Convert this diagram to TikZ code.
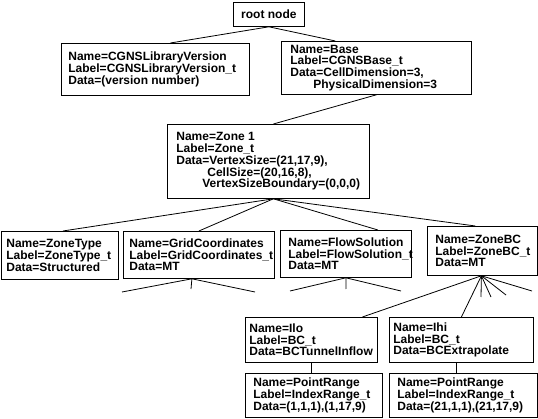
\documentclass[tikz,border=0pt]{standalone}
\usepackage{fontspec}
\setmainfont{Liberation Sans}
\usetikzlibrary{positioning, calc}

\tikzset{
  box/.style 2 args={draw, anchor=north west, minimum width=#1, minimum height=#2, inner sep=0pt},
  txt/.style={font=\bfseries\fontsize{12}{11.8}\selectfont, align=left, inner sep=0pt, anchor=west},
}

\begin{document}
\begin{tikzpicture}[x=1pt, y=-1pt, line width=0.8pt]
\useasboundingbox (0,0) rectangle (538,419);

% top levels
\node[box={71}{24}, font=\bfseries\fontsize{12}{11.8}\selectfont] (root) at (233,2) {root node};
\node[box={188}{52}, label={[txt, xshift=7]west:{Name=CGNSLibraryVersion\\Label=CGNSLibraryVersion\_t\\Data=(version number)}}] (lib) at (61,43) {};
\node[box={190}{53}, label={[txt, xshift=9]west:{Name=Base\\Label=CGNSBase\_t\\Data=CellDimension=3,\\\hspace*{23pt}PhysicalDimension=3}}] (base) at (281,41) {};
\node[box={202}{74}, label={[txt, xshift=9]west:{Name=Zone 1\\Label=Zone\_t\\Data=VertexSize=(21,17,9),\\\hspace*{31pt}CellSize=(20,16,8),\\\hspace*{26pt}VertexSizeBoundary=(0,0,0)}}] (zone) at (167,124) {};

% children of the zone
\node[box={117}{48}, label={[txt, xshift=5]west:{Name=ZoneType\\Label=ZoneType\_t\\Data=Structured}}] (ztype) at (1,231) {};
\node[box={151}{47}, label={[txt, xshift=6]west:{Name=GridCoordinates\\Label=GridCoordinates\_t\\Data=MT}}] (grid) at (123,231) {};
\node[box={131}{47}, label={[txt, xshift=8]west:{Name=FlowSolution\\Label=FlowSolution\_t\\Data=MT}}] (flow) at (280,230) {};
\node[box={110}{49}, label={[txt, xshift=8]west:{Name=ZoneBC\\Label=ZoneBC\_t\\Data=MT}}] (zbc) at (427,226) {};

% boundary conditions
\node[box={132}{45}, label={[txt, xshift=4]west:{Name=Ilo\\Label=BC\_t\\Data=BCTunnelInflow}}] (ilo) at (245,317) {};
\node[box={144}{45}, label={[txt, xshift=4]west:{Name=Ihi\\Label=BC\_t\\Data=BCExtrapolate}}] (ihi) at (389,317) {};
\node[box={137}{44}, label={[txt, xshift=8]west:{Name=PointRange\\Label=IndexRange\_t\\Data=(1,1,1),(1,17,9)}}] (prlo) at (245,373) {};
\node[box={148}{44}, label={[txt, xshift=8]west:{Name=PointRange\\Label=IndexRange\_t\\Data=(21,1,1),(21,17,9)}}] (prhi) at (389,373) {};

\draw (root.south) -- ([xshift=15]lib.north);
\draw (root.south) -- ([xshift=-41]base.north);
\draw (base.south) -- ([xshift=5]zone.north);

\coordinate (zfan) at ([xshift=5]zone.south);
\draw (zfan) -- ([xshift=3]ztype.north);
\draw (zfan) -- (grid.north);
\draw (zfan) -- ([xshift=32]flow.north);
\draw (zfan) -- ([xshift=-7]zbc.north);

% stubs below the grid and the solution
\coordinate (gfan) at ([xshift=-7]grid.south);
\foreach \x/\y in {122/292, 191/289, 255/292}
    \draw (gfan) -- (\x,\y);
\foreach \x/\y in {290/291, 346/289, 401/291}
    \draw (flow.south) -- (\x,\y);

\coordinate (bfan) at ([xshift=-1]zbc.south);
\draw (bfan) -- ([xshift=51]ilo.north);
\draw (bfan) -- (ihi.north);
\foreach \x/\y in {481/297, 491/297, 506/295, 532/291}
    \draw (bfan) -- (\x,\y);

\draw (ilo.south) -- (ilo.south |- prlo.north);
\draw ([xshift=-5]ihi.south) -- ([xshift=-5]ihi.south |- prhi.north);

\end{tikzpicture}
\end{document}
